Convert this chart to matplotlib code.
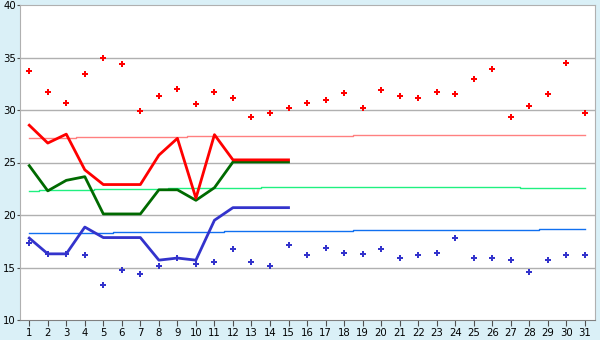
import numpy as np
import matplotlib
matplotlib.use('Agg')
import matplotlib.pyplot as plt

# days of the month
days = np.arange(1, 32)
days15 = np.arange(1, 16)

# scattered daily points
red_pts = [33.7, 31.7, 30.7, 33.4, 35.0, 34.35, 29.9, 31.3, 32.0, 30.55,
           31.7, 31.1, 29.3, 29.7, 30.15, 30.7, 31.0, 31.6, 30.15, 31.9,
           31.3, 31.1, 31.7, 31.5, 33.0, 33.95, 29.3, 30.35, 31.5, 34.45, 29.7]
blue_pts = [17.3, 16.3, 16.3, 16.15, 13.3, 14.75, 14.35, 15.1, 15.9, 15.3,
            15.5, 16.75, 15.5, 15.1, 17.1, 16.15, 16.85, 16.35, 16.25, 16.75,
            15.9, 16.15, 16.35, 17.85, 15.9, 15.9, 15.7, 14.55, 15.7, 16.15, 16.15]

# lines for first half of month
red_line = [28.55, 26.85, 27.7, 24.3, 22.9, 22.9, 22.9, 25.7, 27.3, 21.6,
            27.65, 25.25, 25.25, 25.25, 25.25]
green_line = [24.7, 22.3, 23.3, 23.65, 20.1, 20.1, 20.1, 22.4, 22.4, 21.4,
              22.6, 25.05, 25.05, 25.05, 25.05]
blue_line = [17.8, 16.3, 16.3, 18.85, 17.85, 17.85, 17.85, 15.7, 15.9, 15.7,
             19.5, 20.7, 20.7, 20.7, 20.7]

# average levels (stepped)
red_avg = [27.33] * 3 + [27.43] * 6 + [27.5] * 9 + [27.59] * 13
green_avg = [22.26] + [22.35] * 3 + [22.45] * 4 + [22.54] * 5 + [22.67] * 14 + [22.54] * 4
blue_avg = [18.29] * 5 + [18.38] * 6 + [18.44] * 7 + [18.54] * 10 + [18.63] * 3

fig = plt.figure(figsize=(6, 3.4), dpi=100)
fig.patch.set_facecolor('#DAF0F7')
ax = fig.add_axes([20/600, 20/340, 575/600, 315/340])
ax.set_facecolor('white')

for yv in [15, 20, 25, 30, 35]:
    ax.axhline(yv, color='#B0B0B0', lw=1, zorder=0)

ax.step(days, red_avg, where='mid', color='#FF8080', lw=1)
ax.step(days, green_avg, where='mid', color='#20F080', lw=1)
ax.step(days, blue_avg, where='mid', color='#1070F0', lw=1)

ax.plot(days15, green_line, color='#006A00', lw=2)
ax.plot(days15, red_line, color='#FF0000', lw=2)
ax.plot(days15, blue_line, color='#3333CC', lw=2)

ax.plot(days, red_pts, 'P', color='#FF0000', ms=4.5, mew=0, ls='none')
ax.plot(days, blue_pts, 'P', color='#3333CC', ms=4.5, mew=0, ls='none')

ax.set_xlim(0.5, 31.55)
ax.set_ylim(10, 40)
ax.set_xticks(days)
ax.set_yticks([10, 15, 20, 25, 30, 35, 40])
ax.tick_params(labelsize=7.3, color='#505050')
ax.tick_params(axis='y', length=2, pad=1)
ax.tick_params(axis='x', length=4, pad=2)
for s in ['top', 'right', 'left', 'bottom']:
    ax.spines[s].set_color('#B0B0B0')
ax.spines['bottom'].set_color('#808080')

fig.savefig('out.png', dpi=100, facecolor=fig.get_facecolor())
